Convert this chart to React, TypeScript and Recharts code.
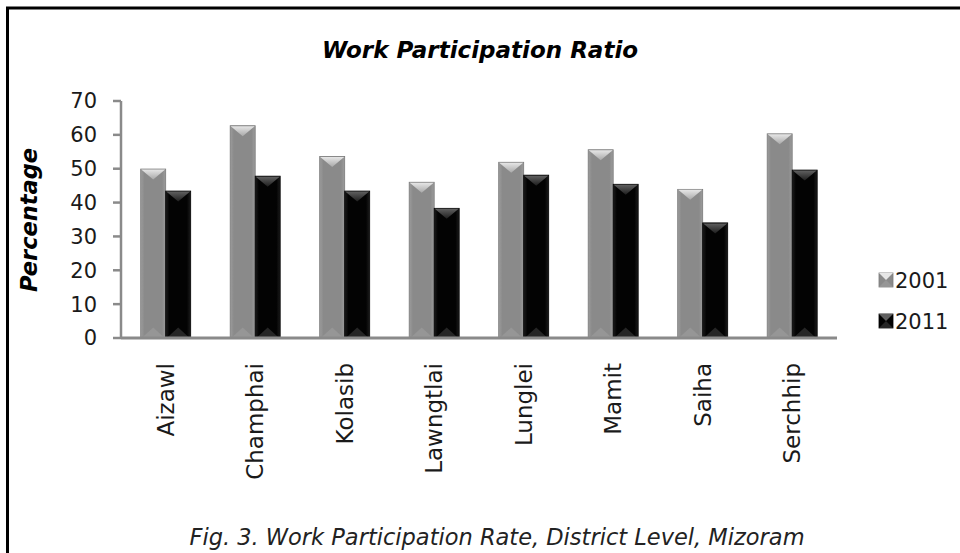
import React from "react";
import { BarChart, Bar, XAxis, YAxis } from "recharts";

const districts = [
  "Aizawl",
  "Champhai",
  "Kolasib",
  "Lawngtlai",
  "Lunglei",
  "Mamit",
  "Saiha",
  "Serchhip",
];
const wpr2001 = [49.9, 62.7, 53.6, 46.0, 51.9, 55.6, 43.9, 60.3];
const wpr2011 = [43.4, 47.8, 43.4, 38.3, 48.1, 45.4, 34.0, 49.6];
const yTicks = [0, 10, 20, 30, 40, 50, 60, 70];

const FONT = "'DejaVu Sans', sans-serif";

interface Tone {
  id: string;
  key: string;
  name: string;
  edge: string;
  bodyOuter: string;
  bodyInner: string;
  capTop: string;
  capBottom: string;
  foot: string;
}

const tones: Tone[] = [
  {
    id: "y2001",
    key: "y2001",
    name: "2001",
    edge: "#7a7a7a",
    bodyOuter: "#9c9c9c",
    bodyInner: "#8a8a8a",
    capTop: "#e6e6e6",
    capBottom: "#a8a8a8",
    foot: "#969696",
  },
  {
    id: "y2011",
    key: "y2011",
    name: "2011",
    edge: "#000000",
    bodyOuter: "#1c1c1c",
    bodyInner: "#030303",
    capTop: "#606060",
    capBottom: "#1e1e1e",
    foot: "#262626",
  },
];

const chartData = districts.map((district, i) => ({
  district,
  y2001: wpr2001[i],
  y2011: wpr2011[i],
}));

// bevelled column: shaded body, light wedge on top, faint wedge at the foot
function bevelBar(tone: Tone) {
  return (props: any) => {
    const { x, y, width: w, height: h } = props;
    if (!h || h <= 0) return <g />;
    const cap = Math.min(w * 0.42, h / 2);
    return (
      <g>
        <rect
          x={x}
          y={y}
          width={w}
          height={h}
          fill={`url(#body-${tone.id})`}
          stroke={tone.edge}
          strokeWidth={0.8}
        />
        <polygon
          points={`${x + 1},${y + h} ${x + w / 2},${y + h - cap} ${x + w - 1},${y + h}`}
          fill={tone.foot}
        />
        <polygon
          points={`${x + 0.5},${y + 0.5} ${x + w - 0.5},${y + 0.5} ${x + w / 2},${
            y + cap
          }`}
          fill={`url(#cap-${tone.id})`}
        />
      </g>
    );
  };
}

function DistrictTick(props: any) {
  const { x, y, payload } = props;
  return (
    <text
      transform={`translate(${x + 8},${y + 25}) rotate(-90)`}
      textAnchor="end"
      fontFamily={FONT}
      fontSize={23}
      fill="#1a1a1a"
    >
      {payload.value}
    </text>
  );
}

function LegendIcon({ tone, x, y }: { tone: Tone; x: number; y: number }) {
  const s = 14;
  const cx = x + s / 2;
  const cy = y + s / 2;
  return (
    <g>
      <rect x={x} y={y} width={s} height={s} fill={tone.bodyInner} stroke={tone.edge} strokeWidth={0.8} />
      <polygon points={`${x},${y} ${x + s},${y} ${cx},${cy}`} fill={tone.capTop} />
      <polygon points={`${x},${y + s} ${x + s},${y + s} ${cx},${cy}`} fill={tone.foot} />
    </g>
  );
}

export default function App() {
  return (
    <div
      style={{
        position: "absolute",
        left: 0,
        top: 0,
        width: 960,
        height: 553,
        background: "#ffffff",
        overflow: "hidden",
      }}
    >
      <BarChart
        width={960}
        height={553}
        data={chartData}
        margin={{ top: 101, right: 123, left: 0, bottom: 95 }}
        barCategoryGap="22%"
        barGap={0}
      >
        <defs>
          {tones.map((t) => (
            <React.Fragment key={t.id}>
              <linearGradient id={`body-${t.id}`} x1="0" y1="0" x2="1" y2="0">
                <stop offset="0%" stopColor={t.bodyOuter} />
                <stop offset="15%" stopColor={t.bodyInner} />
                <stop offset="85%" stopColor={t.bodyInner} />
                <stop offset="100%" stopColor={t.bodyOuter} />
              </linearGradient>
              <linearGradient id={`cap-${t.id}`} x1="0" y1="0" x2="0" y2="1">
                <stop offset="0%" stopColor={t.capTop} />
                <stop offset="100%" stopColor={t.capBottom} />
              </linearGradient>
            </React.Fragment>
          ))}
        </defs>
        <XAxis
          dataKey="district"
          interval={0}
          height={120}
          tickSize={0}
          tickMargin={0}
          tickLine={false}
          axisLine={{ stroke: "#8a8a8a", strokeWidth: 3 }}
          tick={<DistrictTick />}
        />
        <YAxis
          width={121}
          domain={[0, 70]}
          ticks={yTicks}
          interval={0}
          tickSize={8}
          tickMargin={16}
          tickLine={{ stroke: "#8a8a8a", strokeWidth: 2.5 }}
          axisLine={{ stroke: "#8a8a8a", strokeWidth: 2.5 }}
          tick={{ fontFamily: FONT, fontSize: 21, fill: "#1a1a1a" }}
        />
        {tones.map((t) => (
          <Bar
            key={t.key}
            dataKey={t.key}
            name={t.name}
            fill={t.bodyInner}
            shape={bevelBar(t)}
            isAnimationActive={false}
          />
        ))}
      </BarChart>

      <svg
        width={960}
        height={553}
        style={{ position: "absolute", left: 0, top: 0, pointerEvents: "none" }}
      >
        {/* frame */}
        <line x1={7.5} y1={8} x2={7.5} y2={553} stroke="#000" strokeWidth={3} />
        <line x1={6} y1={8} x2={960} y2={8} stroke="#000" strokeWidth={3} />

        <text
          x={480}
          y={58}
          textAnchor="middle"
          fontFamily={FONT}
          fontSize={23}
          fontWeight="bold"
          fontStyle="italic"
          fill="#000"
        >
          Work Participation Ratio
        </text>

        <text
          transform="translate(37,220) rotate(-90)"
          textAnchor="middle"
          fontFamily={FONT}
          fontSize={22.5}
          fontWeight="bold"
          fontStyle="italic"
          fill="#000"
        >
          Percentage
        </text>

        {tones.map((t, i) => (
          <g key={t.id}>
            <LegendIcon tone={t} x={879} y={273 + i * 41} />
            <text
              x={895}
              y={288 + i * 41}
              fontFamily={FONT}
              fontSize={21}
              fill="#1a1a1a"
            >
              {t.name}
            </text>
          </g>
        ))}

        <text
          x={497}
          y={545}
          textAnchor="middle"
          fontFamily={FONT}
          fontSize={22.5}
          fontStyle="italic"
          fill="#222"
        >
          Fig. 3. Work Participation Rate, District Level, Mizoram
        </text>
      </svg>
    </div>
  );
}
